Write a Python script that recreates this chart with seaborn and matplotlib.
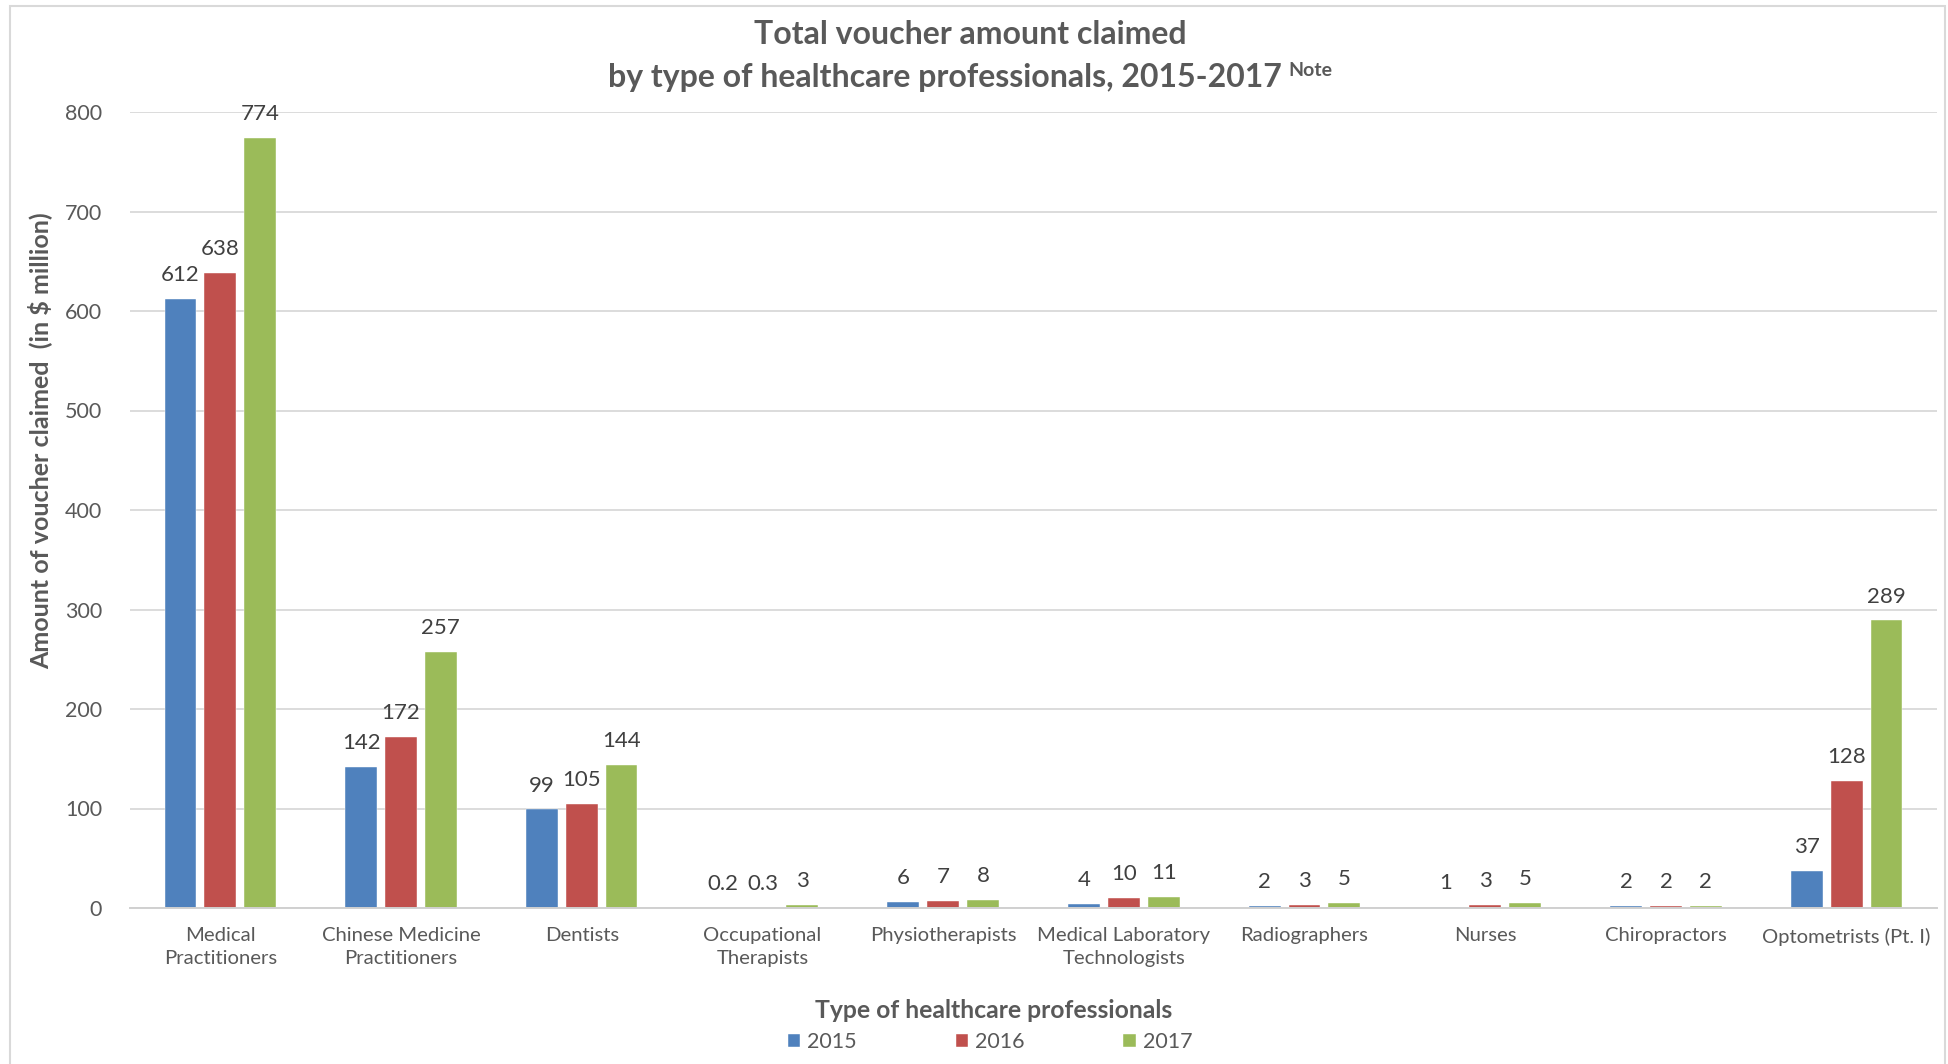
import matplotlib
matplotlib.use("Agg")
import matplotlib.pyplot as plt
from matplotlib.patches import Rectangle
import seaborn as sns
import pandas as pd

# Voucher amounts claimed (in $ million) by profession and year
professions = [
    "Medical\nPractitioners",
    "Chinese Medicine\nPractitioners",
    "Dentists",
    "Occupational\nTherapists",
    "Physiotherapists",
    "Medical Laboratory\nTechnologists",
    "Radiographers",
    "Nurses",
    "Chiropractors",
    "Optometrists (Pt. I)",
]
years = ["2015", "2016", "2017"]
amount_2015 = [612, 142, 99, 0.2, 6, 4, 2, 1, 2, 37]
amount_2016 = [638, 172, 105, 0.3, 7, 10, 3, 3, 2, 128]
amount_2017 = [774, 257, 144, 3, 8, 11, 5, 5, 2, 289]
y_ticks = [0, 100, 200, 300, 400, 500, 600, 700, 800]

colors = ["#4F81BD", "#C0504D", "#9BBB59"]
TICK_GREY = "#595959"
LABEL_GREY = "#404040"

df = pd.DataFrame({
    "profession": professions * 3,
    "year": [y for y in years for _ in professions],
    "amount": amount_2015 + amount_2016 + amount_2017,
})

sns.set_theme(style="white")
plt.rcParams["font.family"] = ["Lato", "DejaVu Sans"]

W, H = 1948, 1064
fig = plt.figure(figsize=(W / 100, H / 100), dpi=100)
ax = fig.add_axes([130 / W, 1 - 908 / H, (1937 - 130) / W, (908 - 112) / H])

sns.barplot(
    data=df, x="profession", y="amount", hue="year", order=professions,
    hue_order=years, palette=colors, width=0.66, gap=0.2, ax=ax,
    edgecolor="white", linewidth=0.3, saturation=1, errorbar=None,
)

ax.set_ylim(0, 800)
ax.set_xlim(-0.5, len(professions) - 0.5)
ax.set_yticks(y_ticks)
ax.set_yticklabels([str(t) for t in y_ticks])
ax.yaxis.grid(True, color="#D9D9D9", linewidth=1.3)
ax.set_axisbelow(True)
for side in ["top", "right", "left"]:
    ax.spines[side].set_visible(False)
ax.spines["bottom"].set_color("#D0D0D0")
ax.spines["bottom"].set_linewidth(1.4)
ax.tick_params(axis="y", length=0, pad=20, labelsize=15.5, labelcolor=TICK_GREY)
ax.tick_params(axis="x", length=0, pad=14, labelsize=14.6, labelcolor=TICK_GREY)
for t in ax.get_xticklabels():
    t.set_linespacing(1.42)
ax.set_xlabel("")
ax.set_ylabel("")

# value labels on top of every bar
for container, vals in zip(ax.containers, [amount_2015, amount_2016, amount_2017]):
    ax.bar_label(container, labels=[f"{v:g}" for v in vals], padding=10,
                 fontsize=16, color=LABEL_GREY)

# axis titles
fig.text(40 / W, 1 - 441 / H, "Amount of voucher claimed  (in $ million)",
         rotation=90, ha="center", va="center", fontsize=18,
         fontweight="bold", color=TICK_GREY)
fig.text(994 / W, 1 - 1011 / H, "Type of healthcare professionals",
         ha="center", va="center", fontsize=17.8, fontweight="bold",
         color=TICK_GREY)

# two-line title with a superscript note marker
title_x = 970 / W
fig.text(title_x, 1 - 35 / H, "Total voucher amount claimed", ha="center",
         va="center", fontsize=23, fontweight="bold", color=TICK_GREY)
line2 = fig.text(title_x, 1 - 77 / H, "by type of healthcare professionals, 2015-2017",
                 ha="left", va="center", fontsize=23, fontweight="bold",
                 color=TICK_GREY)
note = fig.text(title_x, 1 - 70 / H, "Note", ha="left", va="center",
                fontsize=14, fontweight="bold", color=TICK_GREY)
fig.canvas.draw()
r = fig.canvas.get_renderer()
w_main = line2.get_window_extent(r).width
w_note = note.get_window_extent(r).width
gap = 7
start = title_x * W - (w_main + gap + w_note) / 2
line2.set_x(start / W)
note.set_x((start + w_main + gap) / W)

# legend below the axis title
sns.move_legend(
    ax, "center", bbox_to_anchor=(990 / W, 1 - 1042 / H),
    bbox_transform=fig.transFigure, ncol=3, frameon=False, title=None,
    fontsize=15.5, handlelength=0.6, handleheight=0.6, handletextpad=0.3,
    columnspacing=4.6, labelcolor=TICK_GREY,
)

# thin frame around the chart area
fig.patches.append(Rectangle((10 / W, -0.01), (1945 - 10) / W, 1 - 6 / H + 0.01,
                             transform=fig.transFigure, fill=False,
                             edgecolor="#D9D9D9", linewidth=1.5))

fig.savefig("out.png", dpi=100)
